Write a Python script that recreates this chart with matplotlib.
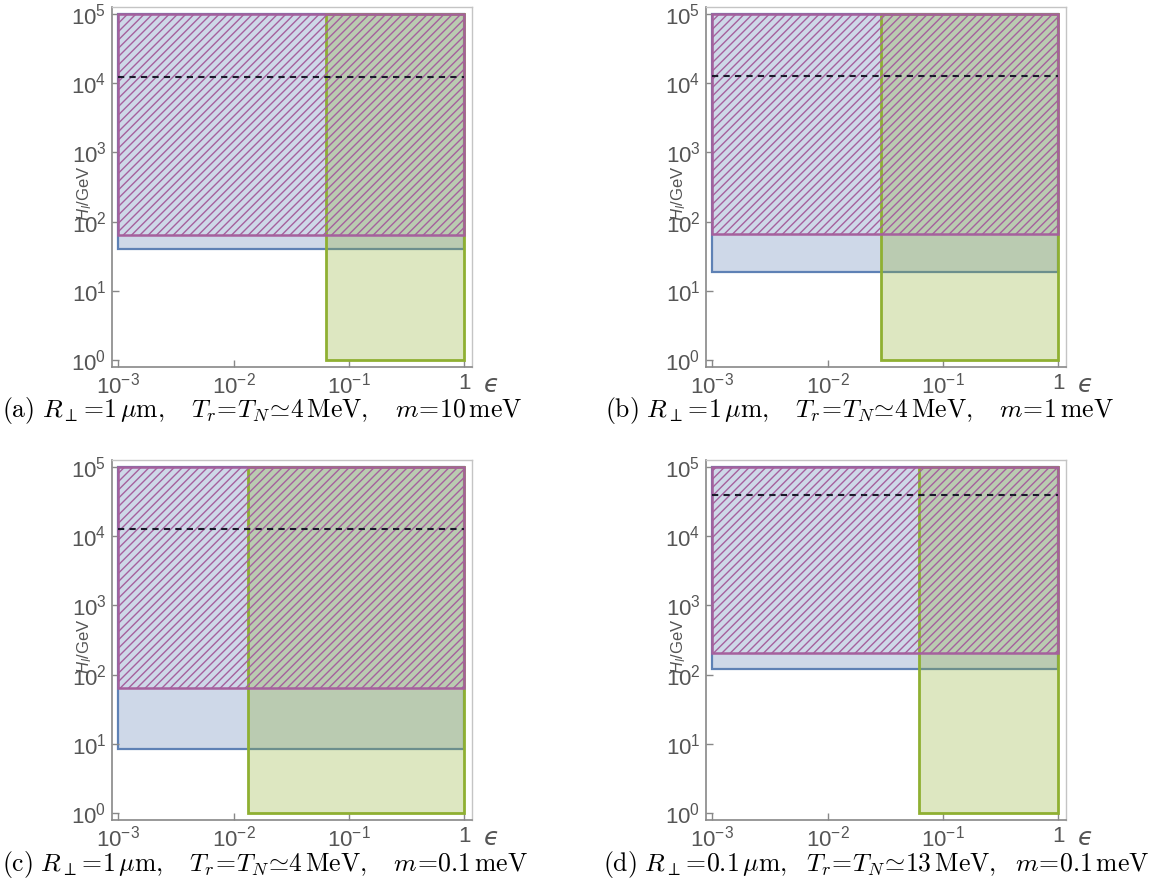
import matplotlib
matplotlib.use('Agg')
import matplotlib.pyplot as plt
from matplotlib.patches import Rectangle
from matplotlib.ticker import NullLocator

plt.rcParams['mathtext.fontset'] = 'custom'
plt.rcParams['mathtext.rm'] = 'Liberation Sans'
plt.rcParams['mathtext.it'] = 'Liberation Sans:italic'
plt.rcParams['mathtext.bf'] = 'Liberation Sans:bold'
plt.rcParams['font.family'] = ['Liberation Sans', 'DejaVu Sans']
plt.rcParams['hatch.linewidth'] = 1.0

# ---- data ----
panel_ids = ['a', 'b', 'c', 'd']
eps_min = 1e-3
eps_max = 1.0
H_top = 1e5
green_H_min = 1.0
blue_H_min = [40, 18.7, 8.4, 122]          # lower edge of blue region
magenta_H_min = [65, 66, 64, 203]          # lower edge of hatched region
green_eps_min = [0.063, 0.029, 0.0133, 0.0625]
dashed_H = [12400, 12500, 12500, 39000]
x_ticks = [1e-3, 1e-2, 1e-1, 1]
x_tick_labels = ['$10^{-3}$', '$10^{-2}$', '$10^{-1}$', '1']
y_ticks = [1e0, 1e1, 1e2, 1e3, 1e4, 1e5]
y_tick_labels = ['$10^{0}$', '$10^{1}$', '$10^{2}$', '$10^{3}$', '$10^{4}$', '$10^{5}$']
captions = [
    r'$\mathrm{(a)}\ R_{\perp}\!=\!1\,\mu\mathrm{m},\ \ \ T_r\!=\!T_N\!\simeq\!4\,\mathrm{MeV},\ \ \ m\!=\!10\,\mathrm{meV}$',
    r'$\mathrm{(b)}\ R_{\perp}\!=\!1\,\mu\mathrm{m},\ \ \ T_r\!=\!T_N\!\simeq\!4\,\mathrm{MeV},\ \ \ m\!=\!1\,\mathrm{meV}$',
    r'$\mathrm{(c)}\ R_{\perp}\!=\!1\,\mu\mathrm{m},\ \ \ T_r\!=\!T_N\!\simeq\!4\,\mathrm{MeV},\ \ \ m\!=\!0.1\,\mathrm{meV}$',
    r'$\mathrm{(d)}\ R_{\perp}\!=\!0.1\,\mu\mathrm{m},\ \ T_r\!=\!T_N\!\simeq\!13\,\mathrm{MeV},\ \ m\!=\!0.1\,\mathrm{meV}$',
]

# ---- style / layout ----
blue = '#5E81B5'
green = '#8FB032'
magenta = '#A5609D'
FW, FH = 1167, 884
frames = [(112, 7), (706, 7), (112, 460), (706, 460)]
caption_pos = [(2, 411), (605, 411), (2, 864), (603, 864)]
W, Hh = 360, 360

fig = plt.figure(figsize=(FW / 100, FH / 100), dpi=100)

for i in range(4):
    left, top = frames[i]
    ax = fig.add_axes([left / FW, 1 - (top + Hh) / FH, W / FW, Hh / FH])
    ax.set_xscale('log')
    ax.set_yscale('log')
    ax.set_xlim(10 ** -3.055, 10 ** 0.068)
    ax.set_ylim(10 ** -0.095, 10 ** 5.097)

    # blue region
    ax.add_patch(Rectangle((eps_min, blue_H_min[i]), eps_max - eps_min, H_top - blue_H_min[i],
                           facecolor=blue, alpha=0.3, edgecolor='none', zorder=1))
    ax.add_patch(Rectangle((eps_min, blue_H_min[i]), eps_max - eps_min, H_top - blue_H_min[i],
                           fill=False, edgecolor=blue, linewidth=1.6, zorder=1.1))
    # green region
    ax.add_patch(Rectangle((green_eps_min[i], green_H_min), eps_max - green_eps_min[i], H_top - green_H_min,
                           facecolor=green, alpha=0.3, edgecolor='none', zorder=2))
    ax.add_patch(Rectangle((green_eps_min[i], green_H_min), eps_max - green_eps_min[i], H_top - green_H_min,
                           fill=False, edgecolor=green, linewidth=2.0, zorder=2.1))
    # hatched magenta region
    ax.add_patch(Rectangle((eps_min, magenta_H_min[i]), eps_max - eps_min, H_top - magenta_H_min[i],
                           fill=False, hatch='////', edgecolor=magenta, linewidth=1.8, zorder=3))
    # dashed line
    ax.plot([eps_min, eps_max], [dashed_H[i], dashed_H[i]], color='#1a1a2a', linestyle=(0, (3, 2.5)),
            linewidth=1.5, zorder=4)

    ax.set_xticks(x_ticks)
    ax.set_xticklabels(x_tick_labels)
    ax.set_yticks(y_ticks)
    ax.set_yticklabels(y_tick_labels)
    ax.xaxis.set_minor_locator(NullLocator())
    ax.yaxis.set_minor_locator(NullLocator())
    ax.tick_params(direction='in', length=5, width=1, color='#888888', labelcolor='#555555',
                   labelsize=16, pad=4)
    for s in ['left', 'bottom']:
        ax.spines[s].set_color('#888888')
        ax.spines[s].set_linewidth(1.2)
    for s in ['top', 'right']:
        ax.spines[s].set_color('#c4c4c4')
        ax.spines[s].set_linewidth(1.0)

    fig.text((left + W + 19) / FW, 1 - (top + Hh + 18) / FH, '\u03f5', ha='center', va='center',
             fontsize=18, color='#555555', family='DejaVu Sans', style='italic')
    fig.text((left - 27) / FW, 1 - (top + 186) / FH, r'$H_I/\mathrm{GeV}$', rotation=90,
             ha='center', va='center', fontsize=12, color='#555555')

    cx, cy = caption_pos[i]
    fig.text(cx / FW, 1 - cy / FH, captions[i], ha='left', va='center', fontsize=18.5,
             color='black', math_fontfamily='cm')

fig.savefig('out.png', dpi=100)
